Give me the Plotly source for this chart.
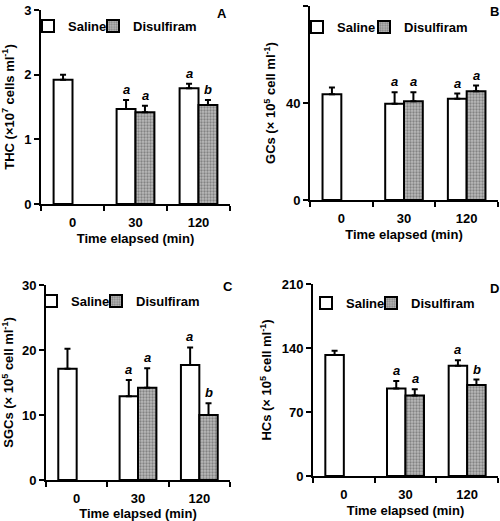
import plotly.graph_objects as go

# ---------------- data ----------------
times = ["0", "30", "120"]

A_saline = [1.92, 1.47, 1.79]
A_saline_err = [0.08, 0.14, 0.07]
A_disulf = [None, 1.42, 1.53]
A_disulf_err = [0, 0.10, 0.08]

B_saline = [43.6, 39.7, 41.8]
B_saline_err = [2.8, 4.7, 2.1]
B_disulf = [None, 40.7, 44.8]
B_disulf_err = [0, 3.7, 2.4]

C_saline = [17.1, 12.9, 17.7]
C_saline_err = [3.1, 2.5, 2.7]
C_disulf = [None, 14.2, 10.0]
C_disulf_err = [0, 3.0, 1.8]

D_saline = [132.4, 95.6, 120.7]
D_saline_err = [4.6, 8.4, 5.8]
D_disulf = [None, 88.0, 99.6]
D_disulf_err = [0, 7.0, 5.9]

saline_letters = {"A": ["", "a", "a"], "B": ["", "a", "a"], "C": ["", "a", "a"], "D": ["", "a", "a"]}
disulf_letters = {"A": ["", "a", "b"], "B": ["", "a", "a"], "C": ["", "a", "b"], "D": ["", "a", "b"]}

y_titles = {
    "A": "THC (×10<sup>7</sup> cells ml<sup>-1</sup>)",
    "B": "GCs (× 10<sup>5</sup> cell ml<sup>-1</sup>)",
    "C": "SGCs (× 10<sup>5</sup> cell ml<sup>-1</sup>)",
    "D": "HCs (× 10<sup>5</sup> cell ml<sup>-1</sup>)",
}
y_ticks = {"A": [0, 1, 2, 3], "B": [0, 40, 80], "C": [0, 10, 20, 30], "D": [0, 70, 140, 210]}
x_title = "Time elapsed (min)"

# ---------------- layout geometry (pixels) ----------------
W, H = 500, 521
FONT = "Arial, Liberation Sans, sans-serif"

def px_x(p):
    return p / W

def px_y(p):
    return 1 - p / H

panels = {
    #   left, right, top, bottom
    "A": (41, 230, 10, 204),
    "B": (310, 498, 6, 200),
    "C": (46, 230, 285, 480),
    "D": (313, 498, 284, 476),
}
# panel letter centres
letter_pos = {"A": (222, 13), "B": (494, 12), "C": (228, 286), "D": (494, 288)}
# legend: (saline legend left, disulfiram legend left, centre y)
legend_pos = {"A": (28, 93, 26), "B": (297, 364, 27), "C": (31, 96, 301), "D": (306, 371, 303)}

data = {
    "A": (A_saline, A_saline_err, A_disulf, A_disulf_err),
    "B": (B_saline, B_saline_err, B_disulf, B_disulf_err),
    "C": (C_saline, C_saline_err, C_disulf, C_disulf_err),
    "D": (D_saline, D_saline_err, D_disulf, D_disulf_err),
}

fig = go.Figure()
layout = dict(
    width=W, height=H, margin=dict(l=0, r=0, t=0, b=0),
    paper_bgcolor="white", plot_bgcolor="white",
    barmode="group", bargap=0.4, bargroupgap=0,
    font=dict(family=FONT, size=12, color="black"),
    showlegend=True,
)

annotations = []
for i, key in enumerate(["A", "B", "C", "D"]):
    n = "" if i == 0 else str(i + 1)
    xa, ya = "x" + n, "y" + n
    leg_s = "legend" + ("" if i == 0 else str(2 * i + 1))
    leg_d = "legend" + str(2 * i + 2)
    sal, sal_e, dis, dis_e = data[key]
    l, r, t, b = panels[key]

    fig.add_trace(go.Bar(
        x=times, y=sal, name="Saline", xaxis=xa, yaxis=ya, legend=leg_s,
        marker=dict(color="white", line=dict(color="black", width=2)),
        error_y=dict(type="data", symmetric=False, array=sal_e,
                     arrayminus=[0] * len(sal_e), color="black", thickness=2, width=3),
        offsetgroup="s",
    ))
    fig.add_trace(go.Bar(
        x=times, y=dis, name="Disulfiram", xaxis=xa, yaxis=ya, legend=leg_d,
        marker=dict(color="#9a9a9a", line=dict(color="black", width=2),
                    pattern=dict(shape=".", fgcolor="#4a4a4a", bgcolor="#bababa",
                                 size=3, solidity=0.45)),
        error_y=dict(type="data", symmetric=False, array=dis_e,
                     arrayminus=[0] * len(dis_e), color="black", thickness=2, width=3),
        offsetgroup="d",
    ))

    ymax = y_ticks[key][-1]
    layout["xaxis" + n] = dict(
        domain=[px_x(l), px_x(r)], anchor=ya, type="category",
        categoryorder="array", categoryarray=times, range=[-0.5, len(times) - 0.5],
        showline=True, linecolor="black", linewidth=2,
        ticks="outside", tickson="boundaries", ticklen=5, tickwidth=2, tickcolor="black",
        ticklabelstandoff=5,
        tickfont=dict(family=FONT, size=13, color="black", weight="bold"),
        title=dict(text="<b>" + x_title + "</b>", standoff=5,
                   font=dict(family=FONT, size=13, color="black")),
        showgrid=False, zeroline=False, automargin=False, fixedrange=True,
    )
    layout["yaxis" + n] = dict(
        domain=[px_y(b), px_y(t)], anchor=xa, range=[0, ymax],
        tickvals=y_ticks[key],
        showline=True, linecolor="black", linewidth=2,
        ticks="outside", ticklen=5, tickwidth=2, tickcolor="black",
        tickfont=dict(family=FONT, size=13, color="black", weight="bold"),
        title=dict(text="<b>" + y_titles[key] + "</b>", standoff=7,
                   font=dict(family=FONT, size=13, color="black")),
        showgrid=False, zeroline=False, automargin=False, fixedrange=True,
    )
    lx_s, lx_d, ly = legend_pos[key]
    for leg, lx in ((leg_s, lx_s), (leg_d, lx_d)):
        layout[leg] = dict(
            orientation="h", x=px_x(lx), y=px_y(ly), xanchor="left", yanchor="middle",
            bgcolor="rgba(0,0,0,0)", itemwidth=30,
            font=dict(family=FONT, size=13, color="black", weight="bold"),
            itemclick=False, itemdoubleclick=False,
        )

    # panel letter
    lpx, lpy = letter_pos[key]
    annotations.append(dict(
        text="<b>" + key + "</b>", xref="paper", yref="paper",
        x=px_x(lpx), y=px_y(lpy), xanchor="center", yanchor="middle",
        showarrow=False, font=dict(family=FONT, size=13, color="black"),
    ))
    # significance letters (x given as category index)
    for j in range(len(times)):
        if saline_letters[key][j] and sal[j] is not None:
            annotations.append(dict(
                text="<b><i>" + saline_letters[key][j] + "</i></b>",
                x=j, y=sal[j] + sal_e[j], xref=xa, yref=ya,
                xanchor="center", yanchor="bottom", xshift=-9.5, yshift=1,
                showarrow=False, font=dict(family=FONT, size=13, color="black"),
            ))
        if disulf_letters[key][j] and dis[j] is not None:
            annotations.append(dict(
                text="<b><i>" + disulf_letters[key][j] + "</i></b>",
                x=j, y=dis[j] + dis_e[j], xref=xa, yref=ya,
                xanchor="center", yanchor="bottom", xshift=9.5, yshift=1,
                showarrow=False, font=dict(family=FONT, size=13, color="black"),
            ))

layout["annotations"] = annotations
fig.update_layout(**layout)
fig.write_html(
    "out.html",
    config={"displayModeBar": False, "staticPlot": True},
    post_script="document.body.style.margin='0px';document.body.style.overflow='hidden';",
)
